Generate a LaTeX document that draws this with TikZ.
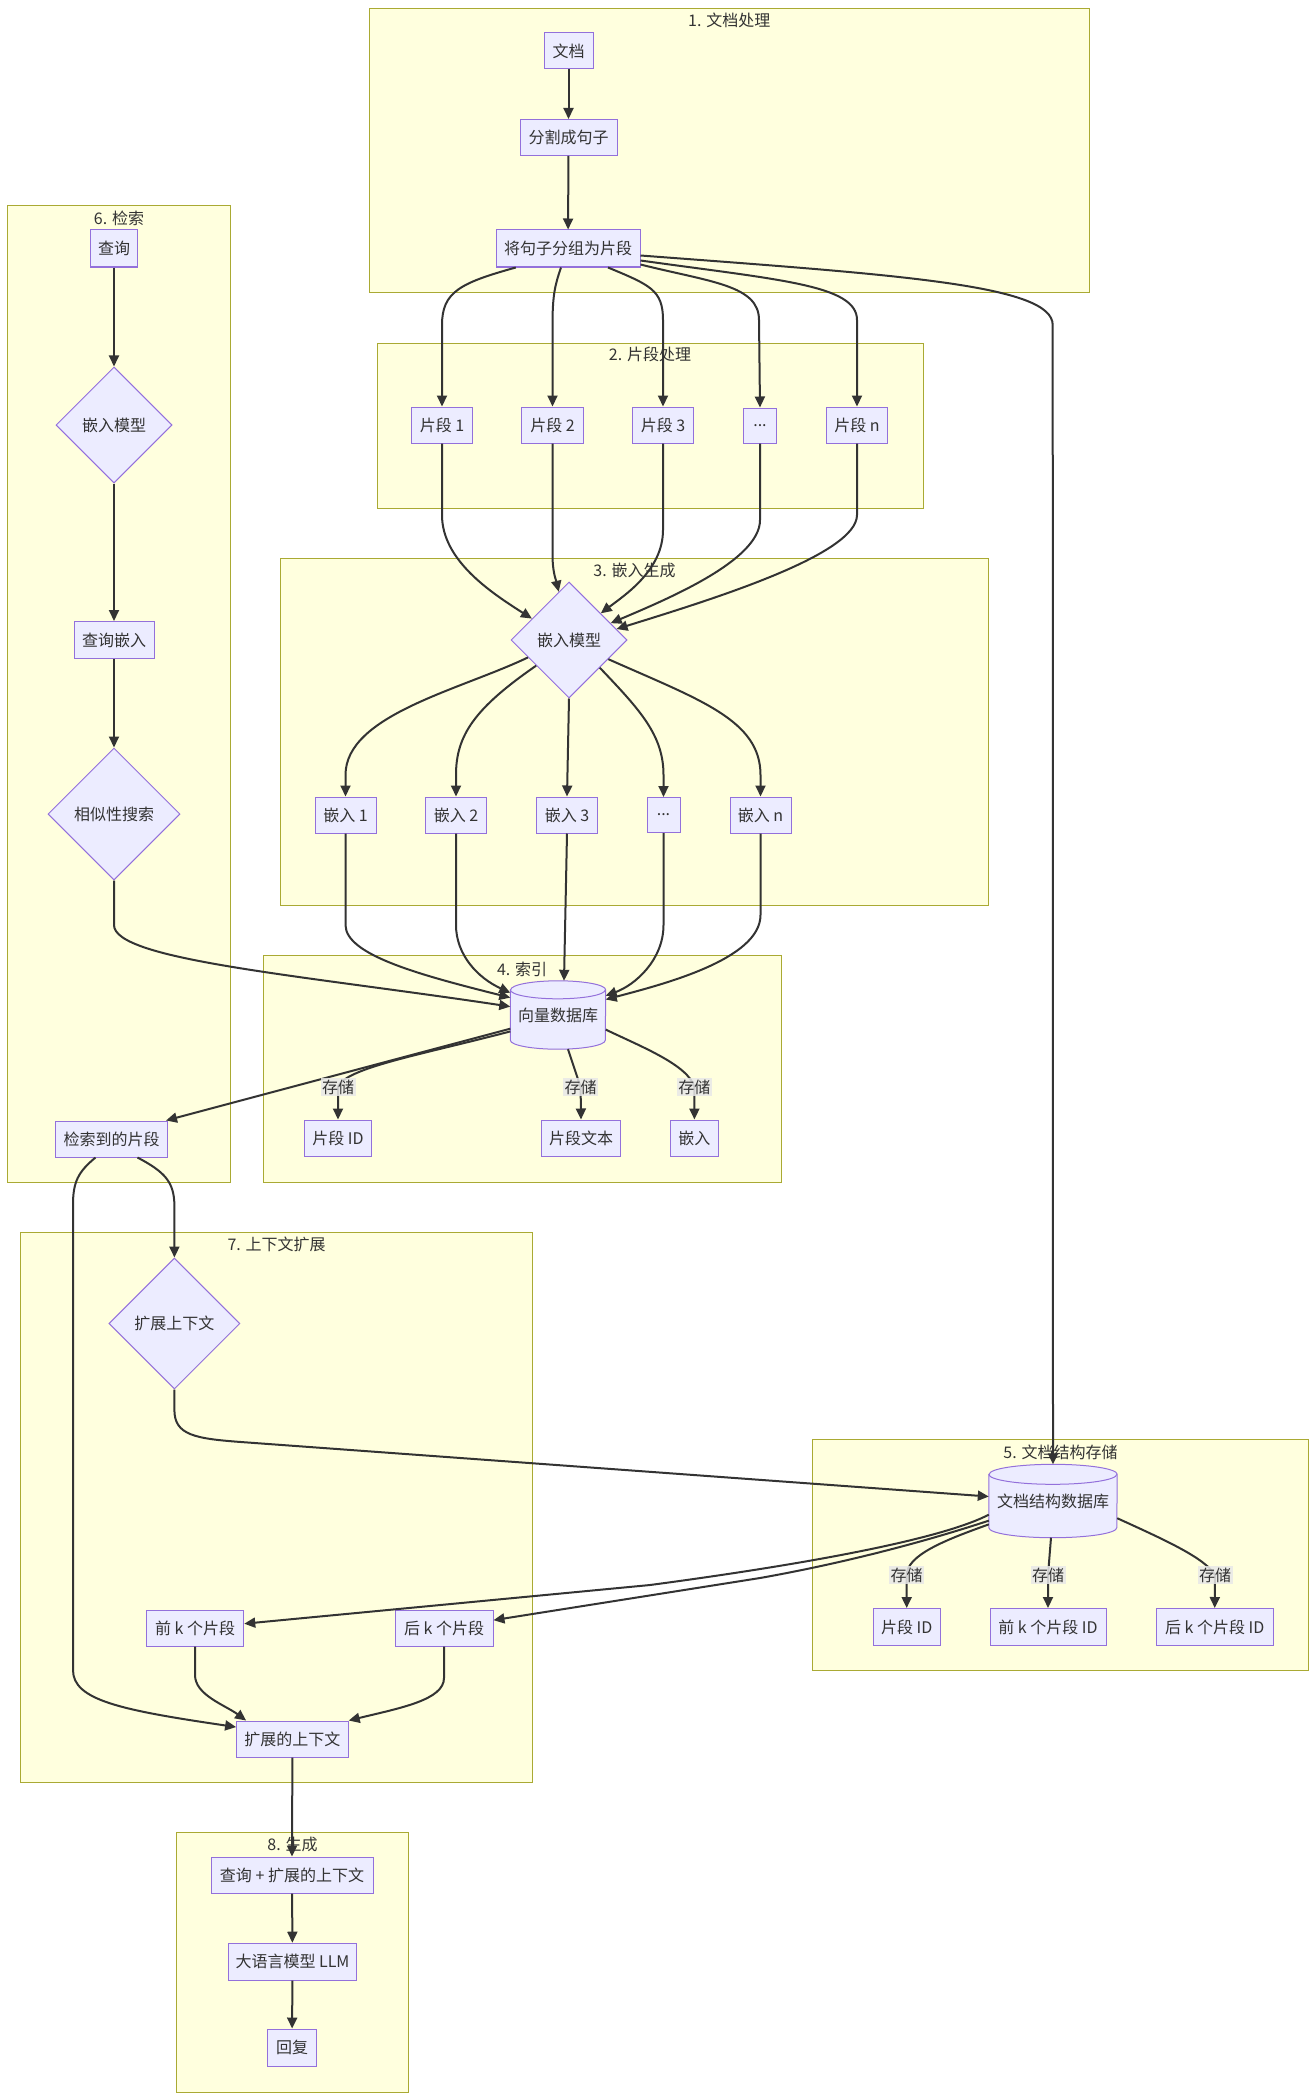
\documentclass[tikz,border=0pt]{standalone}
\usepackage{fontspec}
\setmainfont{Noto Sans CJK SC}
\usetikzlibrary{arrows.meta,shapes.geometric,calc}
\definecolor{nodefill}{HTML}{ECECFF}
\definecolor{nodeborder}{HTML}{9370DB}
\definecolor{clfill}{HTML}{FFFFDE}
\definecolor{clborder}{HTML}{AAAA33}
\definecolor{edgec}{HTML}{333333}
\definecolor{txt}{HTML}{333333}
\definecolor{lblbg}{HTML}{E8E8E8}
\pgfdeclarelayer{bg}
\pgfdeclarelayer{mid}
\pgfsetlayers{bg,mid,main}
\newcommand{\drawdb}[3]{%
  \path[fill=nodefill, draw=nodeborder, line width=1pt]
    ([yshift=-#3]#1.north west) -- ([yshift=#3]#1.south west)
    arc[start angle=180, end angle=360, x radius=#2, y radius=#3]
    -- ([yshift=-#3]#1.north east)
    arc[start angle=0, end angle=180, x radius=#2, y radius=#3] -- cycle;
  \draw[nodeborder, line width=1pt] ([yshift=-#3]#1.north west)
    arc[start angle=180, end angle=360, x radius=#2, y radius=#3];}
\begin{document}
\begin{tikzpicture}[x=1pt,y=-1pt,
  every node/.style={font=\fontsize{16}{19}\selectfont, text=txt},
  box/.style={rectangle, draw=nodeborder, fill=nodefill, line width=1pt, minimum height=36, inner sep=0pt},
  dia/.style={diamond, aspect=1, draw=nodeborder, fill=nodefill, line width=1pt, inner sep=0pt},
  dbnode/.style={rectangle, draw=none, fill=none, inner sep=0pt},
  clus/.style={rectangle, anchor=north west, draw=clborder, fill=clfill, line width=1pt, inner sep=0pt},
  ctitle/.style={inner sep=0pt},
  edge/.style={draw=edgec, line width=2pt, -{Triangle[length=11pt,width=10pt]}},
  elabel/.style={fill=lblbg, fill opacity=0.85, text opacity=1, inner sep=1.5pt},
]
\useasboundingbox (0,0) rectangle (1316,2100);
\begin{pgfonlayer}{bg}
\fill[white] (0,0) rectangle (1316,2100);
\node[clus, minimum width=720.5, minimum height=283.7] (C1) at (368.5,8) {};
\node[clus, minimum width=546, minimum height=165.5] (C2) at (376.5,342.5) {};
\node[clus, minimum width=708, minimum height=347] (C3) at (280,558) {};
\node[clus, minimum width=517.9, minimum height=226.7] (C4) at (262.7,955) {};
\node[clus, minimum width=496, minimum height=231] (C5) at (812,1439) {};
\node[clus, minimum width=223, minimum height=976.7] (C6) at (7,205) {};
\node[clus, minimum width=511.7, minimum height=550] (C7) at (20.3,1232) {};
\node[clus, minimum width=232, minimum height=259.7] (C8) at (176,1832) {};
\node[ctitle] (T1) at ([yshift=-12]C1.north) {1. 文档处理};
\node[ctitle] (T2) at ([yshift=-12]C2.north) {2. 片段处理};
\node[ctitle] (T3) at ([yshift=-12]C3.north) {3. 嵌入生成};
\node[ctitle] (T4) at ([yshift=-14]C4.north) {4. 索引};
\node[ctitle] (T5) at ([yshift=-13]C5.north) {5. 文档结构存储};
\node[ctitle] (T6) at ([yshift=-13]C6.north) {6. 检索};
\node[ctitle] (T7) at ([yshift=-12]C7.north) {7. 上下文扩展};
\node[ctitle] (T8) at ([yshift=-12]C8.north) {8. 生成};
\end{pgfonlayer}

% 1
\node[box, minimum width=49] (doc) at (568.5,51) {文档};
\node[box, minimum width=97] (split) at (568.5,137.5) {分割成句子};
\node[box, minimum width=144, minimum height=37] (group) at (568,248.5) {将句子分组为片段};
% 2
\node[box, minimum width=61.5] (c1) at (442,425) {片段 1};
\node[box, minimum width=61.5] (c2) at (552.5,425) {片段 2};
\node[box, minimum width=61.5] (c3) at (663,425) {片段 3};
\node[box, minimum width=33, minimum height=35] (cd) at (760,425.5) {...};
\node[box, minimum width=61.5] (cn) at (857,425) {片段 n};
% 3
\node[dia, minimum width=116, minimum height=116] (em) at (569,640) {嵌入模型};
\node[box, minimum width=61] (e1) at (345.5,815) {嵌入 1};
\node[box, minimum width=61] (e2) at (456,815) {嵌入 2};
\node[box, minimum width=61] (e3) at (567,815) {嵌入 3};
\node[box, minimum width=33, minimum height=35] (ed) at (663.5,815) {...};
\node[box, minimum width=61] (en) at (760.5,815) {嵌入 n};
% 4
\node[dbnode, minimum width=95, minimum height=68] (vdb) at (558,1015) {向量数据库};
\node[box, minimum width=67] (vid) at (338,1138) {片段 ID};
\node[box, minimum width=79] (vtext) at (581,1138) {片段文本};
\node[box, minimum width=48] (vemb) at (694.4,1138) {嵌入};
% 6
\node[box, minimum width=47, minimum height=37] (q) at (114,248.5) {查询};
\node[dia, minimum width=116, minimum height=116] (qem) at (114,425) {嵌入模型};
\node[box, minimum width=80, minimum height=37] (qe) at (114,640) {查询嵌入};
\node[dia, minimum width=132, minimum height=132] (sim) at (114,814) {相似性搜索};
\node[box, minimum width=112] (ret) at (111.5,1139) {检索到的片段};
% 7
\node[dia, minimum width=131, minimum height=131] (ctx) at (174.4,1323.5) {扩展上下文};
\node[box, minimum width=97.5] (prev) at (195,1628) {前 k 个片段};
\node[box, minimum width=98] (next) at (444,1628) {后 k 个片段};
\node[box, minimum width=111.6] (ectx) at (292.4,1739) {扩展的上下文};
% 5
\node[dbnode, minimum width=128, minimum height=73] (sdb) at (1053,1501) {文档结构数据库};
\node[box, minimum width=67, minimum height=37] (sid) at (906.7,1627) {片段 ID};
\node[box, minimum width=116, minimum height=37] (sprev) at (1048,1627) {前 k 个片段 ID};
\node[box, minimum width=117, minimum height=37] (snext) at (1214.7,1627) {后 k 个片段 ID};
% 8
\node[box, minimum width=162] (qc) at (292,1875) {查询 + 扩展的上下文};
\node[box, minimum width=128, minimum height=37] (llm) at (292.5,1961.7) {大语言模型 LLM};
\node[box, minimum width=48.7, minimum height=37] (resp) at (292,2047.5) {回复};

\begin{pgfonlayer}{mid}
\drawdb{vdb}{47.5pt}{9pt}
\drawdb{sdb}{64pt}{10pt}
\end{pgfonlayer}

% edges 1
\draw[edge] (doc) -- (split);
\draw[edge] (split) -- (group);
\draw[edge] (group.200) .. controls (460,283) and (442,292) .. (442,325) -- (c1.north);
\draw[edge] ([xshift=-7]group.south) .. controls (555,285) and (552.5,295) .. (552.5,325) -- (c2.north);
\draw[edge] ([xshift=40]group.south) .. controls (650,285) and (663,290) .. (663,320) -- (c3.north);
\draw[edge] ([yshift=-16]group.east) .. controls (710,282) and (759,285) .. (759,320) -- (cd.north);
\draw[edge] ([yshift=-12]group.east) .. controls (780,280) and (857,285) .. (857,320) -- (cn.north);
\draw[edge] ([yshift=-7]group.east) .. controls (900,275) and (1052.7,285) .. (1052.7,325) -- (sdb.north);
% edges 2 -> 3
\draw[edge] (c1.south) -- (442,515) .. controls (442,560) and (490,592) .. (em.150);
\draw[edge] (c2.south) -- (552.5,555) .. controls (552.5,572) and (556,580) .. (em.102);
\draw[edge] (c3.south) -- (663,530) .. controls (663,570) and (625,595) .. (em.40);
\draw[edge] (cd.south) -- (760,520) .. controls (760,560) and (670,598) .. (em.22);
\draw[edge] (cn.south) -- (857,515) .. controls (857,555) and (710,600) .. (em.13);
\draw[edge] (em.203) .. controls (460,690) and (345.5,715) .. (345.5,775) -- (e1.north);
\draw[edge] (em.218) .. controls (475,708) and (456,735) .. (456,775) -- (e2.north);
\draw[edge] (em.south) -- (e3.north);
\draw[edge] (em.318) .. controls (640,710) and (663.5,735) .. (663.5,775) -- (ed.north);
\draw[edge] (em.334) .. controls (700,700) and (760.5,720) .. (760.5,775) -- (en.north);
% edges 3 -> 4
\draw[edge] (e1.south) -- (345.5,925) .. controls (345.5,955) and (420,975) .. (vdb.160);
\draw[edge] (e2.south) -- (456,925) .. controls (456,955) and (478,978) .. (vdb.155);
\draw[edge] (e3.south) -- ([xshift=6]vdb.north);
\draw[edge] (ed.south) -- (663.5,925) .. controls (663.5,960) and (635,985) .. (vdb.22);
\draw[edge] (en.south) -- (760.5,915) .. controls (760.5,960) and (660,985) .. (vdb.18);
% edges 6
\draw[edge] (q) -- (qem);
\draw[edge] (qem) -- (qe);
\draw[edge] (qe) -- (sim);
\draw[edge] (sim.south) -- (114,925) .. controls (114,960) and (300,975) .. (vdb.170);
% edges 4
\draw[edge] (vdb.196) -- ([xshift=-2]ret.north east);
\draw[edge] (vdb.199) .. controls (420,1055) and (345,1068) .. (338,1087) node[elabel] (l1) {存储} -- (vid.north);
\draw[edge] ([xshift=10]vdb.south) -- (580.6,1087) node[elabel] (l2) {存储} -- (vtext.north);
\draw[edge] (vdb.-17) .. controls (642,1047) and (688,1065) .. (694.4,1087) node[elabel] (l3) {存储} -- (vemb.north);
% edges 7
\draw[edge] ([xshift=26]ret.south) .. controls (165,1172) and (174,1182) .. (174.4,1205) -- (ctx.north);
\draw[edge] ([xshift=-16]ret.south) .. controls (78,1172) and (73,1182) .. (73,1205) -- (73,1670) .. controls (73,1700) and (120,1710) .. (ectx.168);
\draw[edge] (ctx.south) -- (174.4,1410) .. controls (174.4,1435) and (195,1438.6) .. (241,1442) -- (sdb.176);
\draw[edge] (sdb.192) .. controls (940,1540) and (800,1565) .. (650,1585) -- (prev.5);
\draw[edge] (sdb.197) .. controls (930,1540) and (850,1562) .. (760,1578) -- (next.9);
\draw[edge] (prev.south) -- (195,1675) .. controls (195,1695) and (225,1705) .. ([xshift=10]ectx.north west);
\draw[edge] (next.south) -- (444,1678) .. controls (444,1700) and (400,1708) .. (ectx.north east);
% edges 5
\draw[edge] (sdb.200) .. controls (945,1540) and (907,1555) .. (906.7,1575) node[elabel] (l4) {存储} -- (sid.north);
\draw[edge] ([xshift=-2]sdb.south) -- (1048,1575) node[elabel] (l5) {存储} -- (sprev.north);
\draw[edge] (sdb.-15) .. controls (1165,1540) and (1205,1558) .. (1215,1575) node[elabel] (l6) {存储} -- (snext.north);
% edges 8
\draw[edge] (ectx.south) -- (qc.north);
\draw[edge] (qc) -- (llm);
\draw[edge] (llm) -- (resp);
\end{tikzpicture}
\end{document}
